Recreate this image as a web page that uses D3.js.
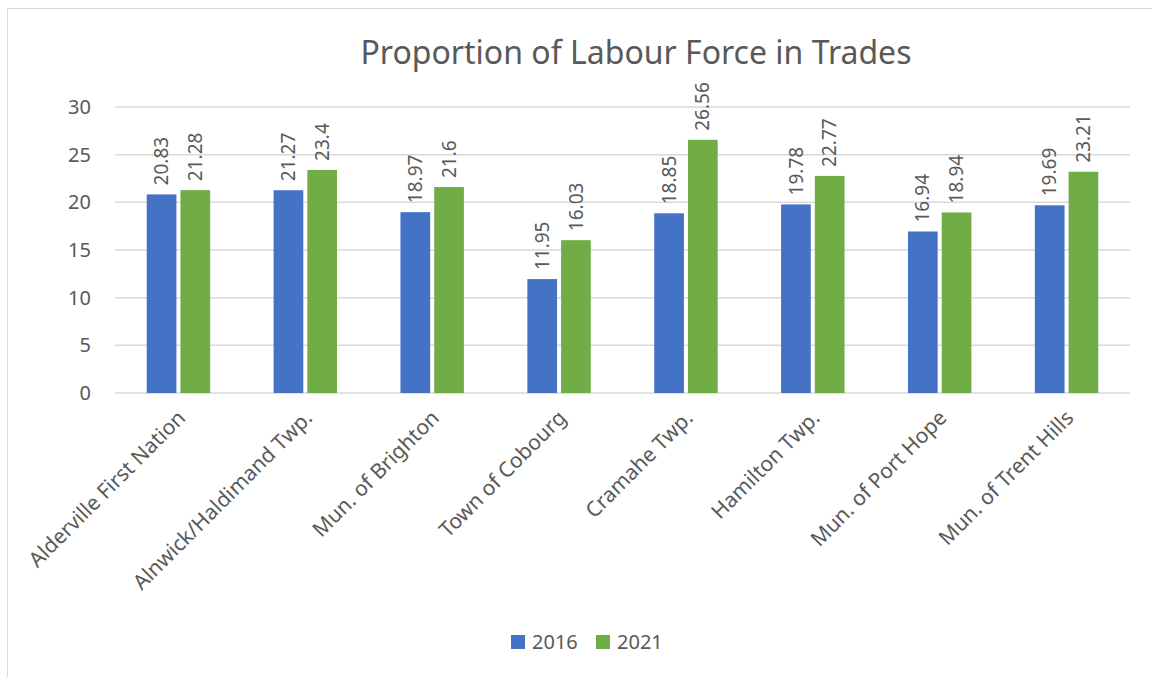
<html>
<head>
<meta charset="utf-8">
<title>Proportion of Labour Force in Trades</title>
<style>
  body { margin: 0; background: #fff; }
  text { font-family: 'Noto Sans', 'Open Sans', sans-serif; fill: #595959; }
</style>
<script src="https://cdnjs.cloudflare.com/ajax/libs/d3/7.8.5/d3.min.js"></script>
</head>
<body>
<div id="plot"></div>
<script>
  var categories = ["Alderville First Nation", "Alnwick/Haldimand Twp.", "Mun. of Brighton",
                    "Town of Cobourg", "Cramahe Twp.", "Hamilton Twp.",
                    "Mun. of Port Hope", "Mun. of Trent Hills"];
  var series = ["2016", "2021"];
  var values2016 = [20.83, 21.27, 18.97, 11.95, 18.85, 19.78, 16.94, 19.69];
  var values2021 = [21.28, 23.4, 21.6, 16.03, 26.56, 22.77, 18.94, 23.21];
  var yTicks = [0, 5, 10, 15, 20, 25, 30];
  var colors = ["#4472C4", "#70AD47"];

  var w = 1152, h = 677;
  var plotL = 115, plotR = 1130, plotT = 107, plotB = 393;

  var svg = d3.select("#plot").append("svg")
      .attr("width", w).attr("height", h);

  // chart border
  svg.append("rect")
    .attr("x", 7.5).attr("y", 8.5)
    .attr("width", w + 10).attr("height", h + 10)
    .attr("fill", "none").attr("stroke", "#d9d9d9");

  var x = d3.scaleBand().domain(categories).range([plotL, plotR]);
  var x1 = d3.scaleBand().domain(series).range([x.bandwidth() / 4, x.bandwidth() * 3 / 4]).paddingInner(0.12);
  var y = d3.scaleLinear().domain([0, 30]).range([plotB, plotT]);

  // gridlines
  svg.selectAll("line.grid").data(yTicks).enter().append("line")
    .attr("class", "grid")
    .attr("x1", plotL).attr("x2", plotR)
    .attr("y1", function(d) { return y(d); })
    .attr("y2", function(d) { return y(d); })
    .attr("stroke", "#d9d9d9").attr("stroke-width", 1.5);

  // y labels
  svg.selectAll("text.ytick").data(yTicks).enter().append("text")
    .attr("class", "ytick")
    .attr("x", 91).attr("y", function(d) { return y(d); })
    .attr("dy", "0.35em")
    .attr("text-anchor", "end")
    .style("font-size", "20px")
    .text(function(d) { return d; });

  var rows = categories.map(function(c, i) {
    return { cat: c, vals: [values2016[i], values2021[i]] };
  });

  var groups = svg.selectAll("g.cat").data(rows).enter().append("g")
    .attr("class", "cat")
    .attr("transform", function(d) { return "translate(" + x(d.cat) + ",0)"; });

  groups.selectAll("rect").data(function(d) {
      return d.vals.map(function(v, j) { return { s: series[j], v: v, j: j }; });
    }).enter().append("rect")
    .attr("x", function(d) { return x1(d.s); })
    .attr("width", x1.bandwidth())
    .attr("y", function(d) { return y(d.v); })
    .attr("height", function(d) { return y(0) - y(d.v); })
    .attr("fill", function(d) { return colors[d.j]; });

  groups.selectAll("text.val").data(function(d) {
      return d.vals.map(function(v, j) { return { s: series[j], v: v }; });
    }).enter().append("text")
    .attr("class", "val")
    .attr("transform", function(d) {
      return "translate(" + (x1(d.s) + x1.bandwidth() / 2) + "," + (y(d.v) - 9) + ") rotate(-90)";
    })
    .attr("dy", "0.35em")
    .style("font-size", "19px")
    .text(function(d) { return d.v; });

  // category labels
  svg.selectAll("text.cat").data(categories).enter().append("text")
    .attr("class", "cat")
    .attr("transform", function(d) {
      return "translate(" + (x(d) + x.bandwidth() / 2 + 3) + ",414) rotate(-45)";
    })
    .attr("text-anchor", "end")
    .attr("dy", "0.35em")
    .style("font-size", "21px")
    .text(function(d) { return d; });

  // title
  svg.append("text")
    .attr("x", 636).attr("y", 53)
    .attr("dy", "0.35em")
    .attr("text-anchor", "middle")
    .style("font-size", "32px")
    .text("Proportion of Labour Force in Trades");

  // legend
  var leg = svg.append("g").attr("transform", "translate(511,642)");
  series.forEach(function(s, i) {
    var g = leg.append("g").attr("transform", "translate(" + (i * 85) + ",0)");
    g.append("rect").attr("x", 0).attr("y", -7).attr("width", 14).attr("height", 14).attr("fill", colors[i]);
    g.append("text").attr("x", 21).attr("y", 0).attr("dy", "0.35em")
      .style("font-size", "20px").text(s);
  });
</script>
</body>
</html>
